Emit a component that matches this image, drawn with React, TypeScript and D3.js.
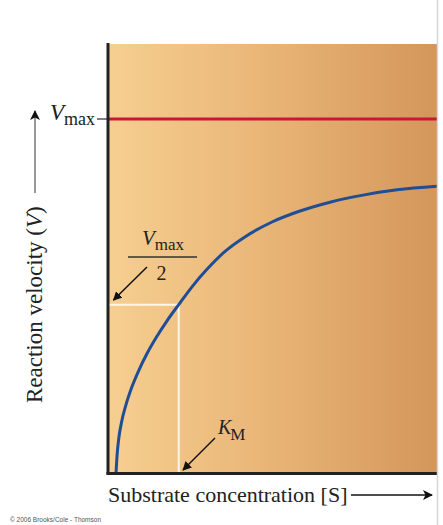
import React from "react";
import * as d3 from "d3";

// Data (S in arbitrary units 0..100, V as fraction of Vmax)
const substrate = [2.43, 2.74, 3.25, 4.13, 5.44, 7.14, 9.27, 11.79, 14.74, 18.09, 21.85, 25.71, 30.15, 35.32, 41.95, 49.85, 58.36, 67.48, 77.51, 87.84, 100];
const velocity = [0, 0.048, 0.096, 0.144, 0.192, 0.24, 0.288, 0.336, 0.384, 0.432, 0.48, 0.528, 0.576, 0.624, 0.669, 0.709, 0.74, 0.765, 0.785, 0.8, 0.81];
const vmax = 1;
const km = 21.5;
const halfV = 0.475;
const xDomain = [0, 100];
const yDomain = [0, 1];

const W = 443;
const H = 525;
const serif = "'Liberation Serif', 'Times New Roman', serif";

export default function App() {
  const x = d3.scaleLinear().domain(xDomain).range([108, 437]);
  const y = d3.scaleLinear().domain(yDomain).range([473, 119]);
  const pts: [number, number][] = substrate.map((s, i) => [s, velocity[i]]);
  const line = d3
    .line<[number, number]>()
    .x((d) => x(d[0]))
    .y((d) => y(d[1]))
    .curve(d3.curveMonotoneX);

  const xk = x(km);
  const yh = y(halfV);
  const yv = y(vmax);
  const x0 = x(0);
  const x1 = x(100);
  const y0 = y(0);

  return (
    <svg
      width={W}
      height={H}
      style={{ position: "absolute", left: 0, top: 0, background: "#fff" }}
    >
      <defs>
        <linearGradient id="bg" x1="0" x2="1" y1="0" y2="0">
          <stop offset="0" stopColor="#F6CF90" />
          <stop offset="0.5" stopColor="#E8B476" />
          <stop offset="1" stopColor="#D4965B" />
        </linearGradient>
        <marker id="ah" viewBox="0 0 10 10" refX="9" refY="5" markerWidth="9" markerHeight="9" markerUnits="userSpaceOnUse" orient="auto">
          <path d="M0,0 L10,5 L0,10 z" fill="#111" />
        </marker>
        <marker id="ahBig" viewBox="0 0 10 10" refX="9" refY="5" markerWidth="12" markerHeight="10" markerUnits="userSpaceOnUse" orient="auto">
          <path d="M0,0 L10,5 L0,10 L2.5,5 z" fill="#111" />
        </marker>
        <clipPath id="plotClip">
          <rect x={x0} y={44} width={x1 - x0} height={y0 - 44} />
        </clipPath>
      </defs>

      {/* plot background */}
      <rect x={x0} y={44} width={x1 - x0} height={y0 - 44} fill="url(#bg)" />

      {/* Km / Vmax/2 guides */}
      <line x1={x0} x2={xk} y1={yh} y2={yh} stroke="#FFF6E6" strokeWidth={2} />
      <line x1={xk} x2={xk} y1={yh} y2={y0} stroke="#FFF6E6" strokeWidth={2} />

      {/* Vmax line */}
      <line x1={x0} x2={x1} y1={yv} y2={yv} stroke="#C8173A" strokeWidth={3} />
      <line x1={97} x2={x0} y1={yv} y2={yv} stroke="#555" strokeWidth={1.5} />

      {/* curve */}
      <g clipPath="url(#plotClip)">
        <path d={line(pts) || ""} fill="none" stroke="#1F4E96" strokeWidth={3} />
      </g>

      {/* axes */}
      <line x1={x0} x2={x0} y1={43} y2={y0 + 1.5} stroke="#222" strokeWidth={3} />
      <line x1={x0 - 1.5} x2={x1} y1={y0 + 0.5} y2={y0 + 0.5} stroke="#222" strokeWidth={3} />

      {/* right gray border */}
      <line x1={437.5} x2={437.5} y1={0} y2={H} stroke="#D6D6D6" strokeWidth={1.5} />

      {/* Vmax label */}
      <text x={50} y={120} fontFamily={serif} fill="#222">
        <tspan fontStyle="italic" fontSize={23}>V</tspan>
        <tspan fontSize={18} dy={5}>max</tspan>
      </text>

      {/* Vmax/2 label */}
      <text x={142} y={245} fontFamily={serif} fill="#222">
        <tspan fontStyle="italic" fontSize={21}>V</tspan>
        <tspan fontSize={17} dy={5}>max</tspan>
      </text>
      <line x1={128} x2={197} y1={257} y2={257} stroke="#333" strokeWidth={1.3} />
      <text x={161.5} y={280} fontFamily={serif} fontSize={20} textAnchor="middle" fill="#222">2</text>
      <line x1={147} y1={267} x2={113.5} y2={300} stroke="#111" strokeWidth={1.5} markerEnd="url(#ah)" />

      {/* Km label */}
      <text x={218} y={434} fontFamily={serif} fill="#222">
        <tspan fontStyle="italic" fontSize={20}>K</tspan>
        <tspan fontSize={17} dy={6} dx={-1}>M</tspan>
      </text>
      <line x1={215} y1={438} x2={183} y2={470} stroke="#111" strokeWidth={1.5} markerEnd="url(#ah)" />

      {/* x-axis label */}
      <text x={108} y={502} fontFamily={serif} fontSize={22} fill="#222">
        Substrate concentration [S]
      </text>
      <line x1={351} y1={495} x2={432} y2={495} stroke="#111" strokeWidth={1.5} markerEnd="url(#ahBig)" />

      {/* y-axis label */}
      <text
        transform="translate(42,403) rotate(-90)"
        fontFamily={serif}
        fontSize={23}
        fill="#222"
      >
        Reaction velocity (<tspan fontStyle="italic">V</tspan>)
      </text>
      <line x1={35} y1={193} x2={35} y2={111} stroke="#777" strokeWidth={1.5} markerEnd="url(#ahBig)" />

      {/* copyright */}
      <text x={10} y={522} fontFamily="'Liberation Sans', Arial, sans-serif" fontSize={6.5} fill="#555">
        © 2006 Brooks/Cole - Thomson
      </text>
    </svg>
  );
}
